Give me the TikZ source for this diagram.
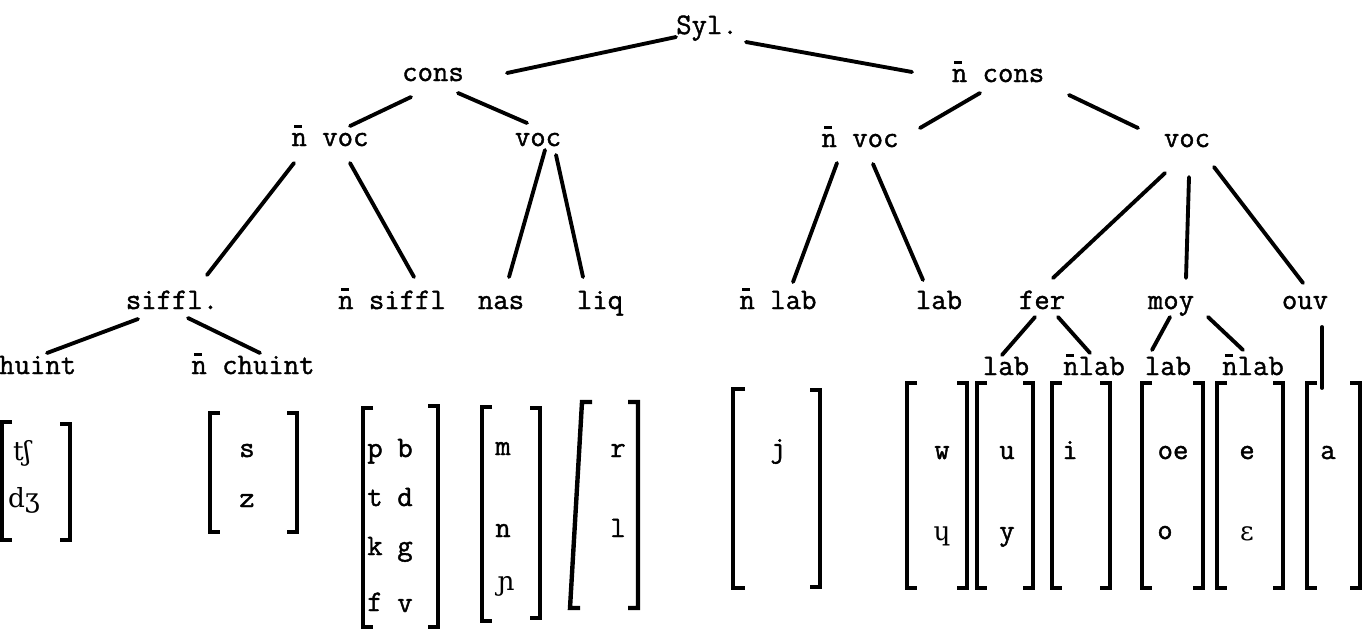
\documentclass[tikz,border=0pt]{standalone}
\usepackage{fontspec}
\setmainfont{Latin Modern Mono}[FakeBold=1.3]
\newfontfamily\ipa{DejaVu Serif}
\usetikzlibrary{calc}
\newcommand\nbar{\ooalign{n\cr\hidewidth\rule[.62em]{.26em}{.1em}\kern.08em\hidewidth\cr}}
\tikzstyle{lbl}=[inner sep=0pt, font=\fontsize{17}{20}\selectfont, text height=11pt, text depth=3pt]
\tikzstyle{snd}=[lbl, font=\fontsize{15}{18}\selectfont\ipa]
\tikzstyle{branch}=[line width=2.2pt, line cap=round]
\tikzstyle{brk}=[line width=2.5pt]

\begin{document}
\begin{tikzpicture}[x=0.02cm, y=-0.02cm]
    \useasboundingbox (0,0) rectangle (1364,630);

    % tree labels
    \node[lbl] (syl)    at ( 707, 27) {Syl.};
    \node[lbl] (cons)   at ( 433, 74) {cons};
    \node[lbl] (ncons)  at ( 998, 75) {\nbar\ cons};
    \node[lbl] (nvocl)  at ( 330,139) {\nbar\ voc};
    \node[lbl] (vocl)   at ( 538,139) {voc};
    \node[lbl] (nvocr)  at ( 860,140) {\nbar\ voc};
    \node[lbl] (vocr)   at (1187,140) {voc};

    \node[lbl] (siffl)  at ( 172,302) {siffl.};
    \node[lbl] (nsiffl) at ( 392,302) {\nbar\ siffl};
    \node[lbl] (nas)    at ( 501,302) {nas};
    \node[lbl] (liq)    at ( 600,302) {liq};
    \node[lbl] (nlab)   at ( 778,302) {\nbar\ lab};
    \node[lbl] (lab)    at ( 939,302) {lab};
    \node[lbl] (fer)    at (1042,302) {fer};
    \node[lbl] (moy)    at (1171,302) {moy};
    \node[lbl] (ouv)    at (1305,302) {ouv};

    \node[lbl] (chuint)  at (  30,367) {chuint};
    \node[lbl] (nchuint) at ( 253,367) {\nbar\ chuint};
    \node[lbl] (labf)    at (1006,368) {lab};
    \node[lbl] (nlabf)   at (1094,368) {\nbar lab};
    \node[lbl] (labm)    at (1168,368) {lab};
    \node[lbl] (nlabm)   at (1253,368) {\nbar lab};

    % branches
    \draw[branch] ($(syl.center)+(-31,10)$)   -- ($(cons.center)+(74,-1)$);
    \draw[branch] ($(syl.center)+(39,15)$)    -- ($(ncons.center)+(-86,-3)$);
    \draw[branch] ($(cons.center)+(-22,23)$)  -- ($(nvocl.center)+(20,-13)$);
    \draw[branch] ($(cons.center)+(25,19)$)   -- ($(vocl.center)+(-11,-16)$);
    \draw[branch] ($(ncons.center)+(-18,18)$) -- ($(nvocr.center)+(60,-12)$);
    \draw[branch] ($(ncons.center)+(71,20)$)  -- ($(vocr.center)+(-49,-12)$);

    \draw[branch] ($(nvocl.center)+(-36,24)$) -- ($(siffl.center)+(35,-27)$);
    \draw[branch] ($(nvocl.center)+(20,24)$)  -- ($(nsiffl.center)+(22,-25)$);
    \draw[branch] ($(vocl.center)+(7,11)$)    -- ($(nas.center)+(8,-25)$);
    \draw[branch] ($(vocl.center)+(18,16)$)   -- ($(liq.center)+(-17,-25)$);
    \draw[branch] ($(nvocr.center)+(-23,23)$) -- ($(nlab.center)+(15,-20)$);
    \draw[branch] ($(nvocr.center)+(13,24)$)  -- ($(lab.center)+(-16,-22)$);
    \draw[branch] ($(vocr.center)+(-22,33)$)  -- ($(fer.center)+(11,-24)$);
    \draw[branch] ($(vocr.center)+(2,37)$)    -- ($(moy.center)+(15,-24)$);
    \draw[branch] ($(vocr.center)+(27,27)$)   -- ($(ouv.center)+(-2,-19)$);

    \draw[branch] ($(siffl.center)+(-34,17)$) -- ($(chuint.center)+(17,-14)$);
    \draw[branch] ($(siffl.center)+(16,16)$)  -- ($(nchuint.center)+(7,-14)$);
    \draw[branch] ($(fer.center)+(-7,15)$)    -- ($(labf.center)+(-4,-13)$);
    \draw[branch] ($(fer.center)+(16,15)$)    -- ($(nlabf.center)+(-4,-15)$);
    \draw[branch] ($(moy.center)+(-1,15)$)    -- ($(labm.center)+(-16,-18)$);
    \draw[branch] ($(moy.center)+(37,15)$)    -- ($(nlabm.center)+(-10,-18)$);

    % sounds
    \node[snd] (tS) at (  22,453) {tʃ};
    \node[snd] (dZ) at (  24,500) {dʒ};
    \node[lbl] (s)  at ( 247,450) {s};
    \node[lbl] (z)  at ( 247,500) {z};
    \node[lbl] (p)  at ( 375,450) {p};
    \node[lbl] (b)  at ( 405,450) {b};
    \node[lbl] (t)  at ( 375,499) {t};
    \node[lbl] (d)  at ( 405,499) {d};
    \node[lbl] (k)  at ( 375,548) {k};
    \node[lbl] (g)  at ( 405,548) {g};
    \node[lbl] (f)  at ( 375,604) {f};
    \node[lbl] (v)  at ( 405,605) {v};
    \node[lbl] (m)  at ( 503,448) {m};
    \node[lbl] (n)  at ( 503,530) {n};
    \node[snd] (nj) at ( 506,583) {ɲ};
    \node[lbl] (r)  at ( 618,450) {r};
    \node[lbl] (l)  at ( 618,530) {l};
    \node[lbl] (j)  at ( 778,450) {j};
    \node[lbl] (w)  at ( 942,452) {w};
    \node[snd] (H)  at ( 942,533) {ɥ};
    \node[lbl] (u)  at (1007,452) {u};
    \node[lbl] (y)  at (1007,533) {y};
    \node[lbl] (i)  at (1070,452) {i};
    \node[lbl] (oe) at (1173,452) {oe};
    \node[lbl] (o)  at (1165,532) {o};
    \node[lbl] (e)  at (1247,452) {e};
    \node[snd] (E)  at (1247,533) {ɛ};
    \node[lbl] (a)  at (1328,452) {a};

    \draw[branch] ($(ouv.center)+(17,25)$) -- ($(a.center)+(-6,-64)$);

    % brackets
    \draw[brk] (  12,422) -- (   2,422) -- (   2,540) -- (  12,540)
               (  60,424) -- (  70,424) -- (  70,540) -- (  60,540);
    \draw[brk] ( 220,413) -- ( 210,413) -- ( 210,532) -- ( 220,532)
               ( 287,413) -- ( 297,413) -- ( 297,532) -- ( 287,532);
    \draw[brk] ( 373,408) -- ( 363,408) -- ( 363,627) -- ( 373,627)
               ( 428,406) -- ( 438,406) -- ( 438,627) -- ( 428,627);
    \draw[brk] ( 492,407) -- ( 482,407) -- ( 482,621) -- ( 492,621)
               ( 530,408) -- ( 540,408) -- ( 540,618) -- ( 530,618);
    \draw[brk] ( 592,402) -- ( 582,402) -- ( 570,608) -- ( 580,608)
               ( 628,402) -- ( 638,402) -- ( 638,608) -- ( 628,608);
    \draw[brk] ( 745,389) -- ( 733,389) -- ( 733,588) -- ( 745,588)
               ( 810,390) -- ( 820,390) -- ( 820,587) -- ( 810,587);
    \draw[brk] ( 917,383) -- ( 907,383) -- ( 907,588) -- ( 917,588)
               ( 957,383) -- ( 967,383) -- ( 967,588) -- ( 957,588);
    \draw[brk] ( 987,383) -- ( 977,383) -- ( 977,588) -- ( 987,588)
               (1023,383) -- (1033,383) -- (1033,588) -- (1023,588);
    \draw[brk] (1062,383) -- (1052,383) -- (1052,588) -- (1062,588)
               (1100,383) -- (1110,383) -- (1110,588) -- (1100,588);
    \draw[brk] (1152,383) -- (1142,383) -- (1142,588) -- (1152,588)
               (1193,383) -- (1203,383) -- (1203,588) -- (1193,588);
    \draw[brk] (1227,383) -- (1217,383) -- (1217,588) -- (1227,588)
               (1273,383) -- (1283,383) -- (1283,588) -- (1273,588);
    \draw[brk] (1317,383) -- (1307,383) -- (1307,588) -- (1317,588)
               (1350,383) -- (1360,383) -- (1360,588) -- (1350,588);
\end{tikzpicture}
\end{document}
